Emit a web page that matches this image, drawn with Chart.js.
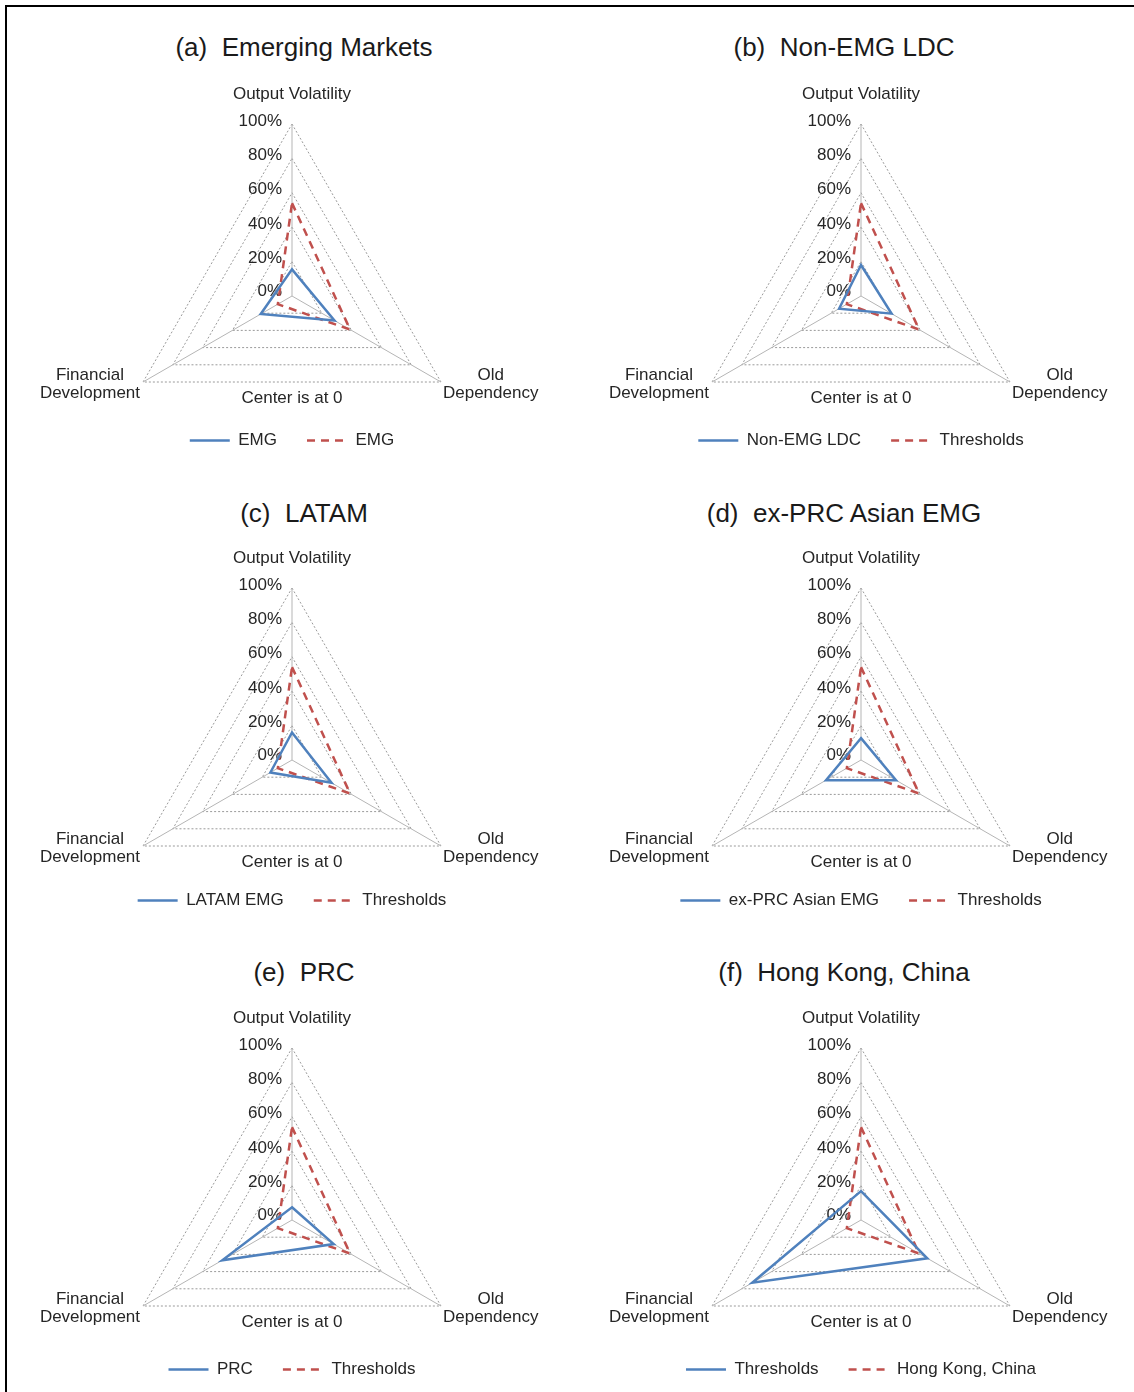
<!DOCTYPE html>
<html>
<head>
<meta charset="utf-8">
<script src="https://cdn.jsdelivr.net/npm/chart.js@4.4.1/dist/chart.umd.min.js"></script>
<style>
  html, body { margin: 0; padding: 0; background: #fff; overflow: hidden; }
  body { width: 1134px; height: 1392px; position: relative; font-family: "Liberation Sans", Arial, sans-serif; }
  .frame { position: absolute; left: 5px; top: 5px; width: 2000px; height: 2000px; border-left: 2px solid #000; border-top: 2px solid #000; }
  .title { position: absolute; white-space: pre; font-size: 26px; color: #1a1a1a; transform: translate(-50%, -50%); }
  .box { position: absolute; }
</style>
</head>
<body>
<div class="frame"></div>
<script>
// axes of every radar
const categories = [['Output Volatility'], ['Old', 'Dependency'], ['Financial', 'Development']];
const tickValues = [0, 20, 40, 60, 80, 100];

// red dashed series (same in every panel)
const thresholds = [54, 39, 9.5];

// blue series, one per panel
const emg = [15.5, 28.5, 21];
const nonEmgLdc = [18, 20.5, 14.7];
const latam = [16, 26.5, 14.5];
const exPrcAsian = [12.7, 23.5, 23.5];
const prc = [7.4, 28, 46.8];
const hongKong = [16.8, 44.5, 73];

// panel titles and legend names
const titles = ['(a)  Emerging Markets', '(b)  Non-EMG LDC', '(c)  LATAM', '(d)  ex-PRC Asian EMG', '(e)  PRC', '(f)  Hong Kong, China'];
const blueNames = ['EMG', 'Non-EMG LDC', 'LATAM EMG', 'ex-PRC Asian EMG', 'PRC', 'Thresholds'];
const redNames = ['EMG', 'Thresholds', 'Thresholds', 'Thresholds', 'Thresholds', 'Hong Kong, China'];
const blueSeries = [emg, nonEmgLdc, latam, exPrcAsian, prc, hongKong];

// layout (pixels)
const colX = [292, 861];
const titleX = [304, 844];
const rowTitleY = [47, 513, 972];
const rowCenterY = [296, 760, 1220];
const rowLegendY = [441, 901, 1370];
const RADIUS = 172;
const HALF_W = 285;

Chart.defaults.font.family = '"Liberation Sans", Arial, sans-serif';
Chart.defaults.color = '#262626';

// draws tick labels, axis names and the centre note from the r scale
const axisText = {
  id: 'axisText',
  beforeDatasetsDraw(chart) {
    const s = chart.scales.r;
    const ctx = chart.ctx;
    ctx.save();
    ctx.fillStyle = '#262626';
    ctx.font = '17px "Liberation Sans", Arial, sans-serif';
    ctx.textBaseline = 'middle';
    ctx.textAlign = 'right';
    s.ticks.forEach(t => {
      const d = s.getDistanceFromCenterForValue(t.value);
      ctx.fillText(t.label, s.xCenter - 10, s.yCenter - d - (t.value === 0 ? 5 : 3));
    });
    ctx.textAlign = 'center';
    chart.data.labels.forEach((lab, i) => {
      const p = s.getPointPosition(i, s.drawingArea);
      const lines = [].concat(lab);
      const w = Math.max(...lines.map(l => ctx.measureText(l).width));
      let x = p.x, y = p.y - 30;
      if (i === 1) { x = p.x + 2 + w / 2; y = p.y - 7; }
      if (i === 2) { x = p.x - 3 - w / 2; y = p.y - 7; }
      lines.forEach((l, k) => ctx.fillText(l, x, y + k * 18));
    });
    ctx.fillText('Center is at 0', s.xCenter, s.yCenter + s.drawingArea / 2 + 16);
    ctx.restore();
  }
};

// legend samples take the dataset's own line style
function legendLabels(chart) {
  const items = Chart.defaults.plugins.legend.labels.generateLabels(chart);
  items.forEach(it => {
    const ds = chart.data.datasets[it.datasetIndex];
    it.lineDash = ds.borderDash || [];
    it.lineWidth = ds.borderWidth;
    it.strokeStyle = ds.borderColor;
  });
  return items;
}

titles.forEach((t, i) => {
  const col = i % 2, row = Math.floor(i / 2);

  const title = document.createElement('div');
  title.className = 'title';
  title.textContent = t;
  title.style.left = titleX[col] + 'px';
  title.style.top = rowTitleY[row] + 'px';
  document.body.appendChild(title);

  const top = rowTitleY[row] + 25;
  const height = rowLegendY[row] + 18 - top;
  const cy = rowCenterY[row] - top;
  const box = document.createElement('div');
  box.className = 'box';
  box.style.left = (colX[col] - HALF_W) + 'px';
  box.style.top = top + 'px';
  box.style.width = (HALF_W * 2) + 'px';
  box.style.height = height + 'px';
  const canvas = document.createElement('canvas');
  box.appendChild(canvas);
  document.body.appendChild(box);

  new Chart(canvas, {
    type: 'radar',
    data: {
      labels: categories,
      datasets: [
        {
          label: blueNames[i],
          data: blueSeries[i],
          borderColor: '#4F81BD',
          backgroundColor: '#4F81BD',
          borderWidth: 2.5,
          fill: false,
          pointRadius: 0,
          tension: 0
        },
        {
          label: redNames[i],
          data: thresholds,
          borderColor: '#C0504D',
          backgroundColor: '#C0504D',
          borderWidth: 2.5,
          borderDash: [8, 6],
          fill: false,
          pointRadius: 0,
          tension: 0
        }
      ]
    },
    options: {
      responsive: true,
      maintainAspectRatio: false,
      animation: false,
      plugins: {
        tooltip: { enabled: false },
        title: { display: false },
        legend: {
          position: 'bottom',
          labels: {
            usePointStyle: true,
            pointStyle: 'line',
            pointStyleWidth: 40,
            padding: 30,
            color: '#262626',
            font: { size: 17 },
            generateLabels: legendLabels
          }
        }
      },
      scales: {
        r: {
          min: 0,
          max: 100,
          ticks: { display: false, stepSize: 20, callback: v => v + '%' },
          pointLabels: { display: false },
          grid: { color: '#9a9a9a', lineWidth: 1 },
          border: { dash: [2, 2] },
          angleLines: { color: '#b5b5b5', lineWidth: 1 },
          afterSetDimensions(scale) {
            scale.xCenter = HALF_W;
            scale.yCenter = cy;
            scale.drawingArea = RADIUS;
          }
        }
      }
    },
    plugins: [axisText]
  });
});
</script>
</body>
</html>
